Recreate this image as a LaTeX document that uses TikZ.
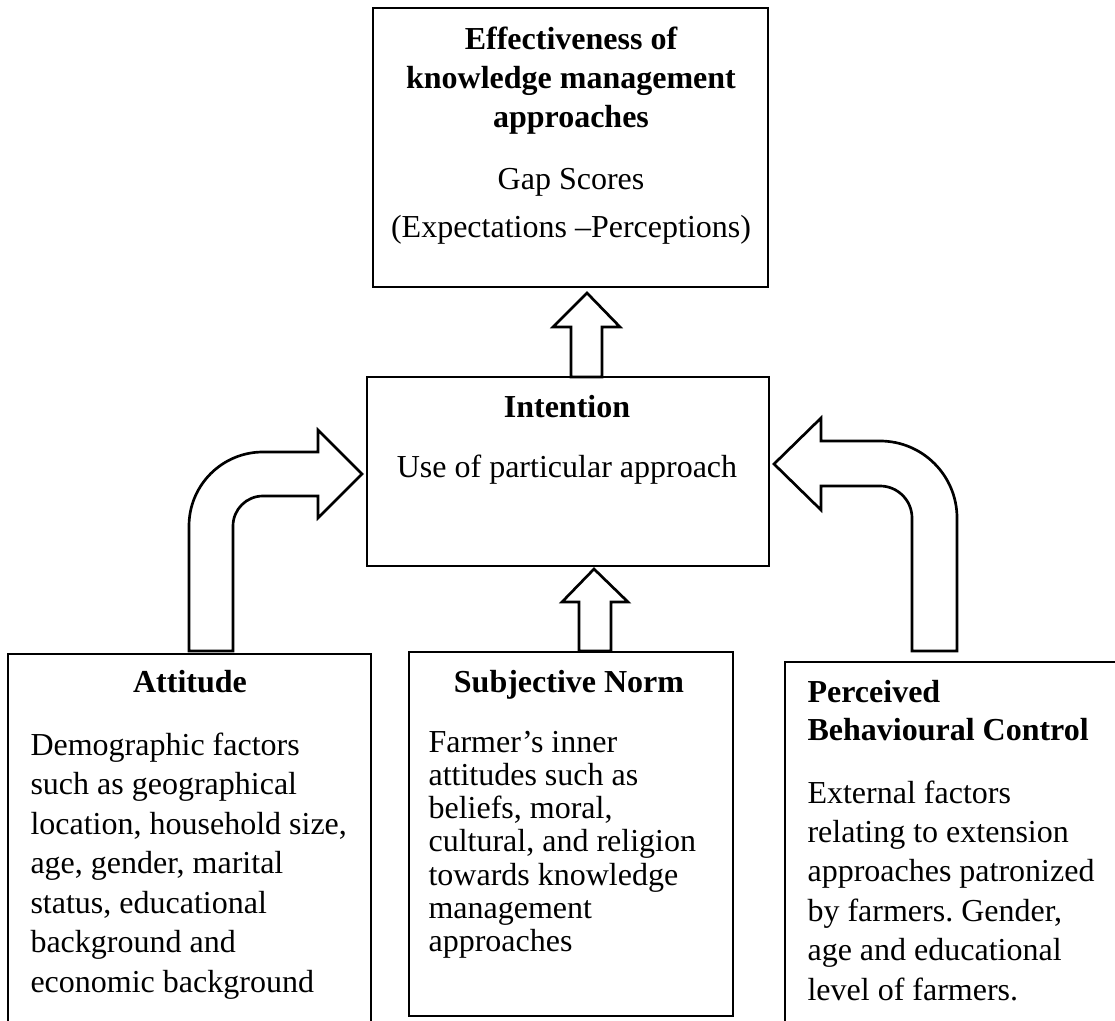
\documentclass[tikz,border=0pt]{standalone}
\usepackage{fontspec}
\setmainfont{Liberation Serif}
\usetikzlibrary{fit}
\frenchspacing

\begin{document}
\begin{tikzpicture}[x=0.375pt,y=-0.375pt,
  box/.style={draw, line width=1pt, inner sep=0pt},
  blockarrow/.style={draw, line width=1pt, fill=white, line join=miter},
  body/.style={inner sep=0pt, anchor=base west, font=\fontsize{12}{14}\selectfont},
  bodyc/.style={inner sep=0pt, anchor=base, font=\fontsize{12}{14}\selectfont},
  head/.style={inner sep=0pt, anchor=base, font=\fontsize{12}{14}\selectfont\bfseries},
  headw/.style={inner sep=0pt, anchor=base west, font=\fontsize{12}{14}\selectfont\bfseries}]

\path[use as bounding box] (0,0) rectangle (1115,1021);
\clip (0,0) rectangle (1115,1021);
\fill[white] (0,0) rectangle (1115,1021);

% box corners
\coordinate (effTL) at (373,8);   \coordinate (effBR) at (768,287);
\coordinate (intTL) at (367,377); \coordinate (intBR) at (769,566);
\coordinate (attTL) at (8,654);   \coordinate (attBR) at (371,1060);
\coordinate (subTL) at (409,652); \coordinate (subBR) at (733,1016);
\coordinate (pbcTL) at (785,662); \coordinate (pbcBR) at (1140,1060);

% boxes
\node[box, fit=(effTL)(effBR)] (eff) {};
\node[box, fit=(intTL)(intBR)] (int) {};
\node[box, fit=(attTL)(attBR)] (att) {};
\node[box, fit=(subTL)(subBR)] (sub) {};
\node[box, fit=(pbcTL)(pbcBR)] (pbc) {};

% intention -> effectiveness
\draw[blockarrow] (571,377) -- (571,327) -- (553,327) -- (587,293)
  -- (620,327) -- (602,327) -- (602,377) -- cycle;

% subjective norm -> intention
\draw[blockarrow] (579,651) -- (579,602) -- (562,602) -- (594,569)
  -- (628,602) -- (611,602) -- (611,651) -- cycle;

% attitude -> intention (bent arrow)
\draw[blockarrow] (189,651) -- (189,526)
  arc[start angle=180, end angle=270, radius=74]
  -- (318,452) -- (318,430) -- (362,474) -- (318,518) -- (318,496)
  -- (263,496) arc[start angle=270, end angle=180, radius=30]
  -- (233,651) -- cycle;

% perceived behavioural control -> intention (bent arrow)
\draw[blockarrow] (957,651) -- (957,518)
  arc[start angle=0, end angle=-90, radius=77]
  -- (821,441) -- (821,418) -- (774,464) -- (821,510) -- (821,486)
  -- (880,486) arc[start angle=-90, end angle=0, radius=32]
  -- (912,651) -- cycle;

% effectiveness box text
\node[head] (eff1) at (571,50)  {Effectiveness of};
\node[head] (eff2) at (571,89)  {knowledge management};
\node[head] (eff3) at (571,128) {approaches};
\node[bodyc] (eff4) at (571,190) {Gap Scores};
\node[bodyc] (eff5) at (571,238) {(Expectations –Perceptions)};

% intention box text
\node[head] (int1) at (567,418) {Intention};
\node[bodyc] (int2) at (567,478) {Use of particular approach};

% attitude box text
\node[head] (att0) at (190,693) {Attitude};
\foreach \t [count=\i from 0] in {Demographic factors, such as geographical,
  {location, household size,}, {age, gender, marital}, {status, educational},
  background and, economic background}
  \node[body] (att\i) at (30,755+39.5*\i) {\t};

% subjective norm box text
\node[head] (sub0) at (569,692) {Subjective Norm};
\foreach \t [count=\i from 0] in {Farmer’s inner, attitudes such as,
  {beliefs, moral,}, {cultural, and religion}, towards knowledge,
  management, approaches}
  \node[body] (sub\i) at (428,752+33.3*\i) {\t};

% perceived behavioural control box text
\node[headw] (pbcA) at (807,702) {Perceived};
\node[headw] (pbcB) at (807,740) {Behavioural Control};
\foreach \t [count=\i from 0] in {External factors, relating to extension,
  approaches patronized, {by farmers. Gender,}, age and educational,
  level of farmers.}
  \node[body] (pbc\i) at (807,803+39.4*\i) {\t};

\end{tikzpicture}
\end{document}
